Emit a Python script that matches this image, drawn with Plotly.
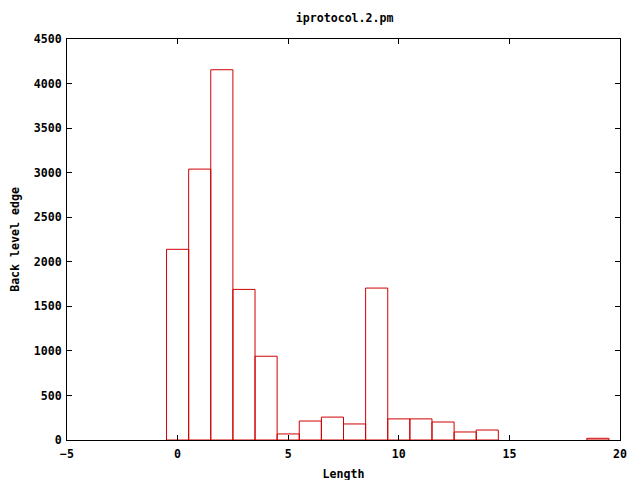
import plotly.graph_objects as go

lengths = list(range(0, 20))
counts = [2140, 3040, 4155, 1690, 940, 68, 213, 257, 180, 1705,
          237, 237, 202, 90, 112, 0, 0, 0, 0, 19]

title_text = "iprotocol.2.pm"
x_label = "Length"
y_label = "Back level edge"
x_ticks = [-5, 0, 5, 10, 15, 20]
y_ticks = [0, 500, 1000, 1500, 2000, 2500, 3000, 3500, 4000, 4500]

font = dict(family="DejaVu Sans Mono", size=11.6, color="black", weight="bold")

# empty bins are not drawn as visible boxes
bar_vals = [c if c > 0 else None for c in counts]

fig = go.Figure(go.Bar(
    x=lengths, y=bar_vals, width=1.0,
    marker=dict(color="rgba(0,0,0,0)", line=dict(color="#d00000", width=1)),
))

fig.update_layout(
    width=640, height=480,
    margin=dict(l=59, r=28, t=31, b=48, autoexpand=False),
    paper_bgcolor="white", plot_bgcolor="white",
    showlegend=False,
    font=font,
    title=dict(text=title_text, x=0.526, xanchor="center", y=0.979, yanchor="middle", font=font),
)
fig.update_xaxes(
    range=[-5, 20], tickvals=x_ticks, ticks="inside", ticklen=5, tickcolor="black",
    showline=True, linecolor="black", linewidth=1, mirror="ticks",
    showgrid=False, zeroline=False, tickfont=font, automargin=False,
    ticklabelstandoff=3,
    title=dict(text=x_label, font=font, standoff=9),
)
fig.update_yaxes(
    range=[0, 4500], tickvals=y_ticks, ticks="inside", ticklen=5, tickcolor="black",
    showline=True, linecolor="black", linewidth=1, mirror="ticks",
    showgrid=False, zeroline=False, tickfont=font, automargin=False,
    ticklabelstandoff=2,
    title=dict(text=y_label, font=font, standoff=20),
)

fig.write_html("out.html")
